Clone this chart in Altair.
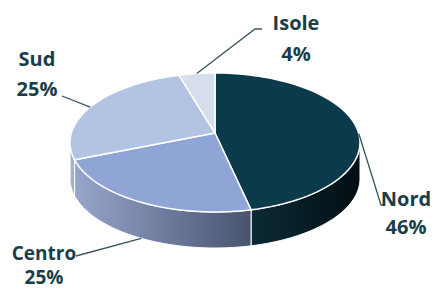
import math
import altair as alt
import pandas as pd

# ---- data ----
categories = ["Nord", "Centro", "Sud", "Isole"]
values = [46, 25, 25, 4]

# ---- styles ----
top_colors = ["#0b3b4a", "#8ea5d6", "#b3c3e2", "#d6ddec"]
side_left = {"Nord": "#0c2b36", "Centro": "#97a6cc", "Sud": "#a9b8da"}
side_right = {"Nord": "#020e13", "Centro": "#48536f", "Sud": "#9cabd0"}
text_color = "#1b3d4a"
leader_color = "#3a5560"

# ---- geometry (page pixels) ----
CX, CY, RX, RY = 215, 142.5, 145, 69.5
APX, APY = 215, 133
DEPTH = 36
N = 60

# label layout
label_x = [406, 44, 37, 296]
name_y = [200, 254, 60, 24]
pct_y = [228, 278, 90, 55]
label_size = [20, 19, 20, 20]
leader_elbow = [(381, 205), (76, 256), (62, 96), (255, 29)]
leader_end = [(385, 205), (76, 256), (62, 96), (262, 29)]

W, H = 422, 282
X_DOM = [8, 8 + W]
Y_DOM = [8, 8 + H]

def X():
    return alt.X("px:Q", scale=alt.Scale(domain=X_DOM, nice=False, zero=False), axis=None)

def Y():
    return alt.Y("py:Q", scale=alt.Scale(domain=Y_DOM, reverse=True, nice=False, zero=False), axis=None)

pie = pd.DataFrame({"cat": categories, "val": values, "order": list(range(len(categories)))})

base = (
    alt.Chart(pie)
    .transform_joinaggregate(total="sum(val)")
    .transform_window(cum="sum(val)", sort=[alt.SortField("order")], frame=[None, 0])
    .transform_calculate(
        a0="2*PI*(datum.cum - datum.val)/datum.total",
        a1="2*PI*datum.cum/datum.total",
    )
)

# top faces
top = (
    base.transform_calculate(k=f"sequence(0, {N + 2})")
    .transform_flatten(["k"])
    .transform_calculate(
        ang=f"datum.a0 + (datum.a1 - datum.a0) * (datum.k - 1) / {N}",
        px=f"datum.k == 0 ? {APX} : {CX} + {RX} * sin(datum.ang)",
        py=f"datum.k == 0 ? {APY} : {CY} - {RY} * cos(datum.ang)",
    )
    .mark_line(filled=True, interpolate="linear-closed", stroke="white", strokeWidth=1.5)
    .encode(
        x=X(), y=Y(),
        fill=alt.Fill("cat:N", scale=alt.Scale(domain=categories, range=top_colors), legend=None),
        detail="cat:N",
        order="k:Q",
    )
)

# side walls
side_base = (
    base.transform_calculate(s0="max(datum.a0, PI/2)", s1="min(datum.a1, 3*PI/2)")
    .transform_filter("datum.s1 > datum.s0")
    .transform_calculate(k=f"sequence(0, {2 * N + 2})")
    .transform_flatten(["k"])
    .transform_calculate(
        ang=f"datum.k <= {N} ? datum.s0 + (datum.s1 - datum.s0) * datum.k / {N} : datum.s1 - (datum.s1 - datum.s0) * (datum.k - {N + 1}) / {N}",
        px=f"{CX} + {RX} * sin(datum.ang)",
        py=f"{CY} - {RY} * cos(datum.ang) + (datum.k > {N} ? {DEPTH} : 0)",
    )
)

side_layers = []
for c in side_left:
    grad = alt.LinearGradient(
        gradient="linear",
        stops=[alt.GradientStop(color=side_left[c], offset=0), alt.GradientStop(color=side_right[c], offset=1)],
        x1=0, x2=1, y1=0, y2=0,
    )
    side_layers.append(
        side_base.transform_filter(alt.datum.cat == c)
        .mark_line(filled=True, interpolate="linear-closed", fill=grad, stroke="white", strokeWidth=1)
        .encode(x=X(), y=Y(), order="k:Q")
    )

# leaders
total = sum(values)
rows = []
cum = 0
for i, (c, v) in enumerate(zip(categories, values)):
    mid = 2 * math.pi * (cum + v / 2) / total
    cum += v
    sx = CX + RX * math.sin(mid)
    sy = CY - RY * math.cos(mid) + (DEPTH if math.pi / 2 < mid < 3 * math.pi / 2 else 0)
    rows.append({"cat": c, "step": 0, "px": sx, "py": sy})
    rows.append({"cat": c, "step": 1, "px": leader_elbow[i][0], "py": leader_elbow[i][1]})
    rows.append({"cat": c, "step": 2, "px": leader_end[i][0], "py": leader_end[i][1]})
leaders_df = pd.DataFrame(rows)

leaders = (
    alt.Chart(leaders_df)
    .mark_line(color=leader_color, strokeWidth=1.3)
    .encode(x=X(), y=Y(), detail="cat:N", order="step:Q")
)

# labels
lab_rows = []
for i, (c, v) in enumerate(zip(categories, values)):
    lab_rows.append({"txt": c, "px": label_x[i], "py": name_y[i], "fs": label_size[i]})
    lab_rows.append({"txt": f"{v}%", "px": label_x[i], "py": pct_y[i], "fs": label_size[i]})
labels_df = pd.DataFrame(lab_rows)

labels = (
    alt.Chart(labels_df)
    .mark_text(font="Open Sans", fontWeight="bold", color=text_color, align="center", baseline="middle")
    .encode(
        x=X(), y=Y(), text="txt:N",
        size=alt.Size("fs:Q", scale=None, legend=None),
    )
)

chart = (
    alt.layer(*side_layers, top, leaders, labels)
    .properties(width=W, height=H, padding=0, autosize=alt.AutoSizeParams(type="none"))
    .configure_view(stroke=None)
)

chart.save("out.html", embed_options={"renderer": "svg", "actions": False})
